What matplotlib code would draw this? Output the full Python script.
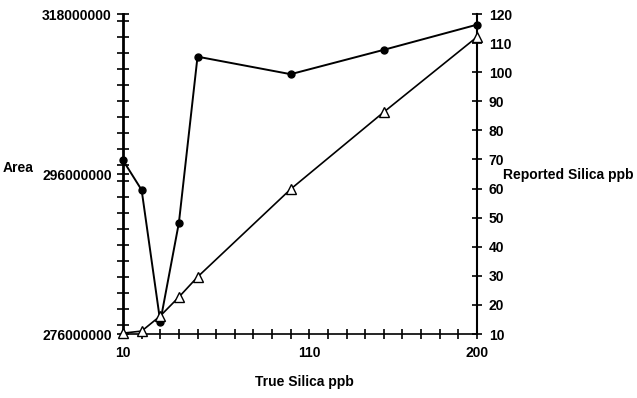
import matplotlib
matplotlib.use("Agg")
import matplotlib.pyplot as plt
from matplotlib.ticker import MultipleLocator, FixedLocator
import matplotlib.font_manager as fm

# ---- data ----
true_silica = [10, 20, 30, 40, 50, 100, 150, 200]
area = [298.8e6, 294.9e6, 277.6e6, 290.6e6, 312.4e6, 310.1e6, 313.3e6, 316.6e6]
reported = [10.3, 11.0, 16.2, 22.7, 29.6, 59.8, 86.3, 112.1]

x_ticks = [10, 110, 200]
x_tick_labels = ["10", "110", "200"]
left_tick_values = [276000000, 297000000, 318000000]
left_tick_labels = ["276000000", "296000000", "318000000"]
right_ticks = [10, 20, 30, 40, 50, 60, 70, 80, 90, 100, 110, 120]

names = {f.name for f in fm.fontManager.ttflist}
fam = "Liberation Sans Narrow" if "Liberation Sans Narrow" in names else "Liberation Sans"
plt.rcParams['font.family'] = [fam, 'DejaVu Sans']
plt.rcParams['font.weight'] = 'bold'

fig = plt.figure(figsize=(6.37, 3.98), dpi=100)
ax = fig.add_axes([123/637, 64/398, 354/637, 320/398])
ax2 = ax.twinx()

ax.plot(true_silica, area, color='black', lw=1.4, marker='o', ms=5,
        mfc='black', mec='black', clip_on=False, zorder=3)
ax2.plot(true_silica, reported, color='black', lw=1.2, marker='^', ms=7,
         mfc='white', mec='black', mew=1.0, clip_on=False, zorder=3)

ax.set_xlim(10, 200)
ax.set_ylim(276e6, 318e6)
ax2.set_ylim(10, 120)

for a in (ax, ax2):
    a.spines['top'].set_visible(False)
ax.spines['right'].set_visible(False)
ax.spines['left'].set_linewidth(2.0)
ax.spines['bottom'].set_linewidth(1.2)
ax2.spines['left'].set_visible(False)
ax2.spines['bottom'].set_visible(False)
ax2.spines['right'].set_linewidth(1.5)

ax.set_xticks(x_ticks)
ax.set_xticklabels(x_tick_labels)
ax.xaxis.set_minor_locator(MultipleLocator(10))
ax.yaxis.set_major_locator(FixedLocator(left_tick_values))
ax.set_yticklabels(left_tick_labels)
ax.yaxis.set_minor_locator(MultipleLocator(2100000))
ax2.set_yticks(right_ticks)

ax.tick_params(axis='x', which='both', direction='inout', length=7, width=1.2,
               labelsize=10, pad=5)
ax.tick_params(axis='y', which='both', direction='inout', length=8, width=1.2,
               labelsize=10, pad=4)
ax2.tick_params(axis='y', which='both', direction='inout', length=7, width=1.2,
                labelsize=10, pad=5)

fig.text(3/637, 1 - 168/398, "Area", fontsize=10, fontweight='bold', va='center', ha='left')
fig.text(503/637, 1 - 175/398, "Reported Silica ppb", fontsize=10, fontweight='bold',
         va='center', ha='left')
fig.text(304/637, 1 - 382/398, "True Silica ppb", fontsize=10, fontweight='bold',
         va='center', ha='center')

fig.savefig("out.png", dpi=100)
